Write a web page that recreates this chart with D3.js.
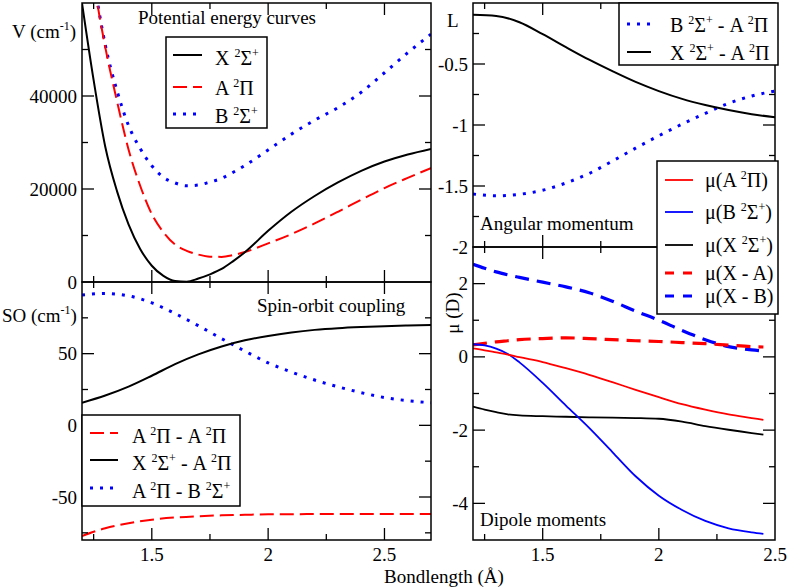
<!DOCTYPE html>
<html>
<head>
<meta charset="utf-8">
<script src="https://cdn.jsdelivr.net/npm/d3@7"></script>
<style>
  html, body { margin: 0; padding: 0; background: #fff; }
  svg { display: block; }
</style>
</head>
<body>
<svg id="chart" width="789" height="588"></svg>
<script>
// ---------------- DATA ----------------
// Potential energy curves (cm^-1) vs bond length (Å)
const rPEC = [1.2, 1.25, 1.3, 1.35, 1.4, 1.45, 1.5, 1.55, 1.6, 1.65, 1.7, 1.75, 1.8, 1.85, 1.9, 2.0, 2.1, 2.2, 2.3, 2.4, 2.5, 2.6, 2.7];
const vX = [60000, 43400, 29100, 19600, 12400, 7100, 3500, 1300, 200, 80, 750, 1650, 2800, 4500, 6400, 11000, 15100, 18500, 21400, 23900, 25900, 27400, 28600];
const vA = [85000, 65000, 50500, 39000, 28500, 20700, 14600, 10700, 8050, 6700, 5900, 5450, 5400, 5800, 6450, 8300, 10300, 12600, 15100, 17700, 20200, 22400, 24500];
const vB = [85000, 65500, 51000, 41200, 33650, 28700, 25000, 22500, 21300, 20700, 20850, 21500, 22300, 23600, 25050, 28400, 31800, 34800, 37500, 40800, 45000, 49300, 53300];

// Spin-orbit coupling (cm^-1)
const rSO = [1.2, 1.3, 1.4, 1.5, 1.6, 1.7, 1.8, 1.9, 2.0, 2.1, 2.2, 2.3, 2.4, 2.5, 2.6, 2.7];
const soAA = [-77.2, -71.8, -68.3, -65.8, -64.3, -63.4, -62.8, -62.4, -62.1, -62.0, -61.9, -61.9, -61.9, -61.9, -61.9, -61.9];
const soXA = [15.8, 20.8, 27.0, 34.6, 42.7, 49.5, 55.0, 59.3, 62.4, 64.8, 66.6, 67.8, 68.6, 69.2, 69.6, 70.0];
const soAB = [90.9, 92.0, 90.3, 85.5, 78.0, 69.5, 60.5, 51.8, 43.6, 37.2, 31.6, 26.9, 22.8, 19.4, 17.2, 15.8];

// Angular momentum L
const rL = [1.2, 1.3, 1.4, 1.5, 1.6, 1.7, 1.8, 1.9, 2.0, 2.1, 2.2, 2.3, 2.4, 2.5];
const lBA = [-1.566, -1.58, -1.568, -1.535, -1.475, -1.397, -1.296, -1.19, -1.088, -0.993, -0.905, -0.822, -0.762, -0.722];
const lXA = [-0.097, -0.106, -0.158, -0.256, -0.362, -0.465, -0.559, -0.647, -0.722, -0.786, -0.836, -0.877, -0.911, -0.937];

// Dipole moments (D)
const rD = [1.2, 1.25, 1.3, 1.35, 1.4, 1.5, 1.6, 1.7, 1.8, 1.9, 2.0, 2.1, 2.2, 2.3, 2.4, 2.45];
const muA = [0.23, 0.18, 0.12, 0.06, -0.01, -0.14, -0.31, -0.49, -0.69, -0.9, -1.1, -1.29, -1.44, -1.57, -1.67, -1.72];
const muB = [0.345, 0.315, 0.225, 0.08, -0.15, -0.71, -1.33, -1.94, -2.6, -3.26, -3.79, -4.18, -4.48, -4.68, -4.79, -4.83];
const muX = [-1.36, -1.44, -1.51, -1.57, -1.6, -1.62, -1.635, -1.65, -1.66, -1.67, -1.69, -1.77, -1.89, -1.99, -2.08, -2.12];
const muXA = [0.33, 0.37, 0.41, 0.44, 0.47, 0.5, 0.52, 0.5, 0.47, 0.44, 0.42, 0.39, 0.36, 0.32, 0.28, 0.27];
const muXB = [2.53, 2.42, 2.32, 2.24, 2.17, 2.04, 1.91, 1.75, 1.52, 1.25, 1.0, 0.72, 0.47, 0.28, 0.19, 0.16];

// Tick values / labels
const xMajorTicks = [1.5, 2, 2.5];
const xMinorTicks = [1.25, 1.75, 2.25];
const xTickLabels = ["1.5", "2", "2.5"];
const pecTicks = [0, 20000, 40000];
const pecMinor = [10000, 30000, 50000];
const soTicks = [-50, 0, 50];
const soMinor = [-75, -25, 25, 75];
const lTicks = [-2, -1.5, -1, -0.5];
const lMinor = [-1.75, -1.25, -0.75, -0.25];
const muTicks = [-4, -2, 0, 2];
const muMinor = [-3, -1, 1];

// Legend texts
const pecLegend = ["X ^{2}Σ^{+}", "A ^{2}Π", "B ^{2}Σ^{+}"];
const soLegend = ["A ^{2}Π - A ^{2}Π", "X ^{2}Σ^{+} - A ^{2}Π", "A ^{2}Π - B ^{2}Σ^{+}"];
const lLegend = ["B ^{2}Σ^{+} - A ^{2}Π", "X ^{2}Σ^{+} - A ^{2}Π"];
const muLegend = ["μ(A ^{2}Π)", "μ(B ^{2}Σ^{+})", "μ(X ^{2}Σ^{+})", "μ(X - A)", "μ(X - B)"];

// ---------------- DRAWING ----------------
const FONT = "'Liberation Serif', 'DejaVu Serif', 'Noto Serif', Tinos, 'Times New Roman', Times, serif";
const svg = d3.select("#chart").attr("font-family", FONT);
const RED = "#ff0000", BLUE = "#0000ff", BLACK = "#000000";
const FS = 19;

function txt(parent) {
  return parent.append("text").attr("font-family", FONT).attr("fill", "#000");
}

function rich(sel, str, size) {
  const parts = [];
  const re = /\^\{([^}]*)\}/g;
  let last = 0, m;
  while ((m = re.exec(str)) !== null) {
    if (m.index > last) parts.push({t: str.slice(last, m.index), sup: false});
    parts.push({t: m[1], sup: true});
    last = re.lastIndex;
  }
  if (last < str.length) parts.push({t: str.slice(last), sup: false});
  let raised = false;
  const rise = Math.round(size * 0.42);
  parts.forEach(p => {
    const ts = sel.append("tspan").text(p.t).attr("xml:space", "preserve");
    if (p.sup) {
      ts.attr("font-size", Math.round(size * 0.62));
      if (!raised) { ts.attr("dy", -rise); raised = true; }
    } else {
      if (raised) { ts.attr("dy", rise); raised = false; }
    }
  });
  return sel;
}

const fmt = v => String(v).replace("\u2212", "-");

function panel(cfg) {
  const x = d3.scaleLinear().domain(cfg.xd).range([cfg.x0, cfg.x1]);
  const y = d3.scaleLinear().domain(cfg.yd).range([cfg.y1, cfg.y0]);
  const g = svg.append("g");
  const id = "clip" + cfg.id;
  svg.append("clipPath").attr("id", id).append("rect")
    .attr("x", cfg.x0).attr("y", cfg.y0).attr("width", cfg.x1 - cfg.x0).attr("height", cfg.y1 - cfg.y0);

  const cg = g.append("g").attr("clip-path", `url(#${id})`);
  cfg.series.forEach(s => {
    const line = d3.line().x((d, i) => x(s.r[i])).y(d => y(d)).curve(d3.curveMonotoneX);
    cg.append("path").attr("d", line(s.v)).attr("fill", "none")
      .attr("stroke", s.color).attr("stroke-width", s.w)
      .attr("stroke-dasharray", s.dash || null)
      .attr("stroke-linejoin", "round");
  });

  const tk = g.append("g").attr("stroke", "#000").attr("stroke-width", 1.3);
  const MAJ = 12, MIN = 6;
  const xt = [...xMajorTicks.map(v => [v, MAJ]), ...xMinorTicks.map(v => [v, MIN])]
    .filter(([v]) => v > cfg.xd[0] && v < cfg.xd[1]);
  xt.forEach(([v, L]) => {
    tk.append("line").attr("x1", x(v)).attr("x2", x(v)).attr("y1", cfg.y1).attr("y2", cfg.y1 - L);
    tk.append("line").attr("x1", x(v)).attr("x2", x(v)).attr("y1", cfg.y0).attr("y2", cfg.y0 + L);
  });
  const yt = [...cfg.yMajor.map(v => [v, MAJ]), ...cfg.yMinor.map(v => [v, MIN])]
    .filter(([v]) => v > cfg.yd[0] && v < cfg.yd[1]);
  yt.forEach(([v, L]) => {
    tk.append("line").attr("x1", cfg.x0).attr("x2", cfg.x0 + L).attr("y1", y(v)).attr("y2", y(v));
    tk.append("line").attr("x1", cfg.x1).attr("x2", cfg.x1 - L).attr("y1", y(v)).attr("y2", y(v));
  });

  g.append("rect").attr("x", cfg.x0).attr("y", cfg.y0)
    .attr("width", cfg.x1 - cfg.x0).attr("height", cfg.y1 - cfg.y0)
    .attr("fill", "none").attr("stroke", "#000").attr("stroke-width", 1.5);

  cfg.yMajor.forEach(v => {
    txt(g).attr("x", cfg.x0 - 5).attr("y", y(v) + 6.5)
      .attr("text-anchor", "end").attr("font-size", FS).text(fmt(v));
  });
  if (cfg.xLabels) {
    xMajorTicks.forEach((v, i) => {
      txt(g).attr("x", x(v)).attr("y", cfg.y1 + 21)
        .attr("text-anchor", "middle").attr("font-size", FS).text(xTickLabels[i]);
    });
  }
  txt(g).attr("x", cfg.title[1]).attr("y", cfg.title[2])
    .attr("font-size", FS).text(cfg.title[0]);
  return {x, y};
}

function legend(box, items, textX, lineX0, lineX1) {
  const g = svg.append("g");
  g.append("rect").attr("x", box[0]).attr("y", box[1]).attr("width", box[2] - box[0]).attr("height", box[3] - box[1])
    .attr("fill", "#fff").attr("stroke", "#000").attr("stroke-width", 1.5);
  items.forEach(it => {
    g.append("line").attr("x1", lineX0).attr("x2", lineX1).attr("y1", it.ly).attr("y2", it.ly)
      .attr("stroke", it.color).attr("stroke-width", it.w).attr("stroke-dasharray", it.dash || null);
    const t = txt(g).attr("x", textX).attr("y", it.by).attr("font-size", 20);
    rich(t, it.label, 20);
  });
}

const DASH = "14,6", DOT = "3,7", DDASH = "14,8";

panel({
  id: 1, x0: 82, x1: 431, y0: 3, y1: 282, xd: [1.2, 2.7], yd: [0, 60000],
  yMajor: pecTicks, yMinor: pecMinor, xLabels: false,
  title: ["Potential energy curves", 138, 24],
  series: [
    {r: rPEC, v: vB, color: BLUE, w: 3, dash: DOT},
    {r: rPEC, v: vA, color: RED, w: 2, dash: DASH},
    {r: rPEC, v: vX, color: BLACK, w: 2}
  ]
});
panel({
  id: 2, x0: 82, x1: 431, y0: 282, y1: 540, xd: [1.2, 2.7], yd: [-80, 100],
  yMajor: soTicks, yMinor: soMinor, xLabels: true,
  title: ["Spin-orbit coupling", 257, 312],
  series: [
    {r: rSO, v: soAB, color: BLUE, w: 3, dash: DOT},
    {r: rSO, v: soAA, color: RED, w: 2, dash: DASH},
    {r: rSO, v: soXA, color: BLACK, w: 2}
  ]
});
panel({
  id: 3, x0: 473, x1: 775, y0: 3, y1: 247, xd: [1.2, 2.5], yd: [-2, 0],
  yMajor: lTicks, yMinor: lMinor, xLabels: false,
  title: ["Angular momentum", 480, 230],
  series: [
    {r: rL, v: lBA, color: BLUE, w: 3, dash: DOT},
    {r: rL, v: lXA, color: BLACK, w: 2}
  ]
});
panel({
  id: 4, x0: 473, x1: 775, y0: 247, y1: 540, xd: [1.2, 2.5], yd: [-5, 3],
  yMajor: muTicks, yMinor: muMinor, xLabels: true,
  title: ["Dipole moments", 480, 526],
  series: [
    {r: rD, v: muXB, color: BLUE, w: 3.2, dash: DDASH},
    {r: rD, v: muXA, color: RED, w: 3.2, dash: DDASH},
    {r: rD, v: muX, color: BLACK, w: 1.8},
    {r: rD, v: muB, color: BLUE, w: 1.8},
    {r: rD, v: muA, color: RED, w: 1.8}
  ]
});

legend([166, 37, 267, 128], [
  {label: pecLegend[0], color: BLACK, w: 2, ly: 55, by: 65},
  {label: pecLegend[1], color: RED, w: 2, dash: DASH, ly: 87, by: 95},
  {label: pecLegend[2], color: BLUE, w: 3, dash: DOT, ly: 114, by: 123}
], 215, 173, 202);
legend([82, 415, 240, 506], [
  {label: soLegend[0], color: RED, w: 2, dash: DASH, ly: 433, by: 443},
  {label: soLegend[1], color: BLACK, w: 2, ly: 460, by: 470},
  {label: soLegend[2], color: BLUE, w: 3, dash: DOT, ly: 488, by: 498}
], 132, 90, 118);
legend([619, 3, 778, 65], [
  {label: lLegend[0], color: BLUE, w: 3, dash: DOT, ly: 24, by: 32},
  {label: lLegend[1], color: BLACK, w: 2, ly: 52, by: 60}
], 670, 627, 651);
legend([657, 161, 778, 314], [
  {label: muLegend[0], color: RED, w: 1.8, ly: 180, by: 187},
  {label: muLegend[1], color: BLUE, w: 1.8, ly: 212, by: 219},
  {label: muLegend[2], color: BLACK, w: 1.8, ly: 245, by: 252},
  {label: muLegend[3], color: RED, w: 3.2, dash: "9,9", ly: 273, by: 280},
  {label: muLegend[4], color: BLUE, w: 3.2, dash: "9,9", ly: 296, by: 303}
], 705, 665, 693);

rich(txt(svg).attr("x", 12).attr("y", 38).attr("font-size", FS), "V (cm^{-1})", FS);
rich(txt(svg).attr("x", 2).attr("y", 322).attr("font-size", FS), "SO (cm^{-1})", FS);
txt(svg).attr("x", 447).attr("y", 27).attr("font-size", FS).text("L");
txt(svg).attr("transform", "translate(459,313) rotate(-90)")
  .attr("text-anchor", "middle").attr("font-size", FS).text("μ (D)");
txt(svg).attr("x", 444).attr("y", 583).attr("text-anchor", "middle")
  .attr("font-size", FS).text("Bondlength (Å)");
</script>
</body>
</html>
